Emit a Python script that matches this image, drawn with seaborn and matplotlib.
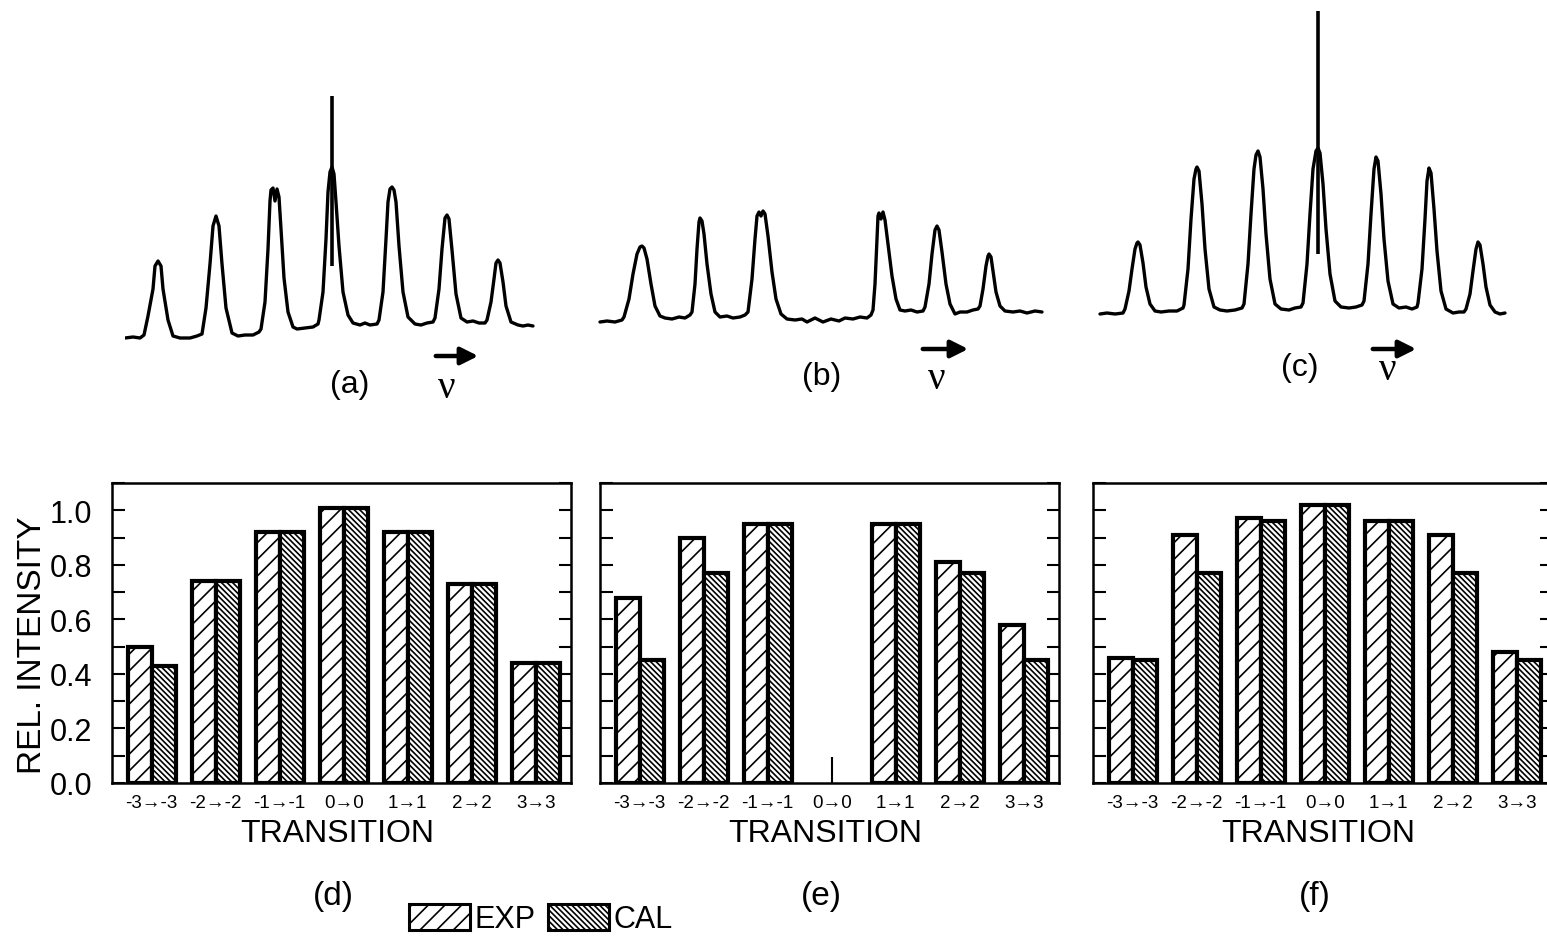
import numpy as np
import pandas as pd
import matplotlib
matplotlib.use('Agg')
import matplotlib.pyplot as plt
import seaborn as sns
from matplotlib.patches import Patch, FancyArrowPatch
from matplotlib.ticker import MultipleLocator

# bar data: relative intensities per transition
transitions = ['-3→-3', '-2→-2', '-1→-1', '0→0', '1→1', '2→2', '3→3']
exp_d = [0.50, 0.74, 0.92, 1.01, 0.92, 0.73, 0.44]
cal_d = [0.43, 0.74, 0.92, 1.01, 0.92, 0.73, 0.44]
exp_e = [0.68, 0.90, 0.95, np.nan, 0.95, 0.81, 0.58]
cal_e = [0.45, 0.77, 0.95, np.nan, 0.95, 0.77, 0.45]
exp_f = [0.46, 0.91, 0.97, 1.02, 0.96, 0.91, 0.48]
cal_f = [0.45, 0.77, 0.96, 1.02, 0.96, 0.77, 0.45]
e_center_mark = 0.095   # small stub drawn at 0->0 in panel (e)

# traced spectra (channel, signal)
spec_a_x = [0, 8, 15,
            19, 23, 28, 30, 33, 36, 38, 43, 48,
            55, 65, 72,
            77, 81, 85, 88, 91, 94, 97, 101, 107,
            113, 120, 128, 134,
            136, 140, 143, 145, 146, 148, 150, 152, 154, 156, 159, 163, 168,
            172, 180, 188, 193,
            194, 198, 201, 203, 205, 207, 209, 211, 214, 218, 223, 228,
            235, 240, 245, 252,
            254, 258, 261, 263, 265, 267, 269, 271, 274, 278, 283,
            290, 296, 302, 308,
            310, 314, 317, 320, 322, 324, 327, 331, 336,
            342, 348, 354, 360,
            362, 366, 369, 371, 373, 375, 378, 381, 386,
            393, 398, 403, 408]
spec_a_y = [6, 7, 6,
            9, 28, 55, 78, 83, 78, 55, 24, 8,
            6, 6, 8,
            10, 36, 80, 118, 128, 118, 80, 36, 11,
            8, 9, 9, 12,
            15, 42, 95, 143, 154, 156, 143, 155, 147, 115, 66, 32, 17,
            15, 16, 17, 20,
            24, 52, 105, 152, 172, 177, 170, 142, 98, 52, 29, 21,
            19, 21, 19, 20,
            24, 52, 105, 142, 155, 157, 154, 142, 98, 52, 27,
            20, 19, 21, 22,
            26, 55, 95, 126, 129, 125, 94, 50, 26,
            22, 23, 21, 21,
            24, 42, 65, 81, 84, 81, 62, 38, 22,
            19, 18, 19, 18]
spike_a = (206.7, 78, 248)

spec_b_x = [5, 12, 20, 27,
            29, 34, 38, 42, 45, 47, 49, 52, 56, 60, 65,
            70, 77, 84, 90, 95,
            97, 100, 102, 104, 105, 107, 109, 112, 116, 120,
            125, 132, 138, 145, 150,
            153, 157, 160, 162, 164, 166, 168, 170, 173, 177, 181, 186,
            192, 200, 207, 212, 220, 228, 236, 244, 250, 258, 265, 272, 276,
            278, 280, 282, 283, 284, 286, 288, 290, 293, 297, 301, 305,
            310, 316, 322, 328,
            330, 334, 337, 340, 342, 344, 347, 351, 355, 360,
            365, 372, 378, 383,
            385, 388, 391, 393, 394, 396, 398, 401, 405, 410,
            418, 425, 432, 440, 447]
spec_b_y = [12, 13, 12, 14,
            17, 35, 60, 80, 87, 88, 86, 75, 50, 28, 18,
            16, 15, 17, 16, 19,
            22, 50, 85, 112, 116, 113, 100, 70, 40, 22,
            17, 18, 16, 17, 19,
            22, 55, 95, 118, 122, 118, 123, 120, 98, 62, 35, 20,
            15, 14, 15, 12, 16, 12, 15, 13, 16, 15, 17, 16, 19,
            24, 50, 95, 118, 121, 115, 122, 114, 90, 58, 35, 24,
            23, 24, 22, 23,
            27, 50, 80, 104, 108, 104, 82, 50, 30, 20,
            22, 22, 24, 25,
            28, 45, 68, 78, 80, 77, 63, 42, 28, 23,
            22, 23, 21, 23, 22]

spec_c_x = [5, 12, 20, 28,
            30, 34, 37, 40, 42, 43, 45, 48, 51, 55, 60,
            66, 74, 82, 88,
            89, 93, 96, 99, 101, 102, 104, 107, 110, 114, 119,
            125, 132, 140, 147,
            149, 153, 156, 159, 161, 163, 165, 168, 171, 175, 180,
            186, 194, 200, 206,
            208, 212, 215, 218, 221, 223, 225, 228, 231, 235, 240,
            246, 254, 261, 267,
            269, 273, 276, 279, 281, 283, 286, 289, 293, 298,
            304, 311, 317, 322,
            323, 327, 330, 332, 334, 336, 339, 342, 346, 351,
            358, 364, 369,
            371, 375, 378, 381, 383, 385, 388, 391, 395, 400,
            405, 410]
spec_c_y = [15, 16, 15, 16,
            20, 38, 60, 80, 86, 87, 84, 66, 42, 25, 18,
            17, 18, 18, 21,
            24, 60, 110, 150, 160, 162, 158, 125, 80, 40, 22,
            19, 18, 19, 21,
            25, 65, 115, 160, 174, 178, 172, 140, 95, 50, 25,
            20, 19, 21, 22,
            26, 65, 115, 160, 178, 181, 176, 145, 100, 55, 28,
            22, 21, 22, 24,
            28, 65, 115, 160, 172, 168, 135, 90, 48, 25,
            21, 22, 20, 22,
            26, 60, 110, 148, 161, 156, 120, 78, 38, 20,
            16, 17, 17,
            20, 35, 58, 80, 87, 84, 65, 42, 24, 17,
            15, 16]
spike_c = (222.7, 75, 318)

W, H = 1547, 945


def fx(px):
    return px / W


def fy(py):
    return 1 - py / H


sns.set_style('white')
plt.rcParams['font.family'] = ['Liberation Sans', 'DejaVu Sans']
plt.rcParams['hatch.linewidth'] = 1.2
for key in ['text.color', 'axes.labelcolor', 'xtick.color', 'ytick.color']:
    plt.rcParams[key] = 'black'

fig = plt.figure(figsize=(W / 100, H / 100), dpi=100)

# --- spectra (a), (b), (c)
spectra = [
    (125, 90, 415, 255, spec_a_x, spec_a_y, spike_a),
    (595, 195, 455, 140, spec_b_x, spec_b_y, None),
    (1095, 5, 415, 325, spec_c_x, spec_c_y, spike_c),
]
for left, top, w, h, sx, sy, spike in spectra:
    ax = fig.add_axes([fx(left), fy(top + h), w / W, h / H])
    sns.lineplot(x=sx, y=sy, ax=ax, color='black', linewidth=2.4,
                 estimator=None, sort=False)
    if spike is not None:
        ax.vlines(spike[0], spike[1], spike[2], color='black', linewidth=2.6)
    ax.set_xlim(0, w)
    ax.set_ylim(0, h)
    ax.set_axis_off()

spec_labels = [('(a)', 350, 385, 447, 433, 481, 357),
               ('(b)', 822, 377, 937, 920, 971, 350),
               ('(c)', 1300, 368, 1388, 1370, 1419, 350)]
for lab, lx, ly, nx, ax0, ax1, ay in spec_labels:
    fig.text(fx(lx), fy(ly), lab, fontsize=23, ha='center', va='center')
    fig.text(fx(nx), fy(ly + 3), 'ν', fontsize=28, ha='center', va='center',
             family=['Liberation Serif', 'DejaVu Serif'])
    arr = FancyArrowPatch((fx(ax0), fy(ay)), (fx(ax1), fy(ay)),
                          transform=fig.transFigure, arrowstyle='-|>',
                          mutation_scale=26, linewidth=3.2, color='black')
    fig.add_artist(arr)

# --- bar panels (d), (e), (f)
panels = [
    (112, exp_d, cal_d, '(d)', True),
    (600, exp_e, cal_e, '(e)', False),
    (1093, exp_f, cal_f, '(f)', False),
]
hatches = ['//', '\\' * 6]
bar_top, bar_bottom = 484, 784
for left, exp, cal, tag, show_labels in panels:
    ax = fig.add_axes([fx(left), fy(bar_bottom), 459 / W, (bar_bottom - bar_top) / H])
    df = pd.DataFrame({
        'Transition': transitions * 2,
        'Type': ['EXP'] * 7 + ['CAL'] * 7,
        'Intensity': list(exp) + list(cal),
    })
    sns.barplot(data=df, x='Transition', y='Intensity', hue='Type',
                order=transitions, hue_order=['EXP', 'CAL'],
                palette=['white', 'white'], saturation=1, edgecolor='black',
                linewidth=3, width=0.75, errorbar=None, legend=False, ax=ax)
    for cont, hatch in zip(ax.containers, hatches):
        for bar in cont:
            bar.set_hatch(hatch)
    if tag == '(e)':
        ax.vlines(transitions.index('0→0'), 0, e_center_mark, color='black', linewidth=1.5)

    ax.set_xlim(-0.62, 6.55)
    ax.set_ylim(0, 1.1)
    ax.yaxis.set_major_locator(MultipleLocator(0.2))
    ax.yaxis.set_minor_locator(MultipleLocator(0.1))
    ax.yaxis.set_major_formatter(plt.FormatStrFormatter('%.1f'))
    ax.tick_params(axis='y', which='both', direction='in', left=True, right=True,
                   length=9, width=1.5, labelleft=show_labels, labelsize=22, pad=14)
    ax.tick_params(axis='x', length=0, labelsize=13.5, pad=8)
    for sp in ax.spines.values():
        sp.set_linewidth(1.8)
        sp.set_color('black')
    ax.set_xlabel('')
    ax.set_ylabel('')
    cx = left + 459 * 0.5
    fig.text(fx(cx - 4), fy(842), 'TRANSITION', fontsize=23, ha='center', va='baseline')
    fig.text(fx(cx - 8), fy(897), tag, fontsize=24, ha='center', va='center')

fig.text(fx(33), fy(645), 'REL. INTENSITY', fontsize=24, rotation=90,
         ha='center', va='center')

handles = [Patch(facecolor='white', edgecolor='black', hatch=hatches[0], linewidth=2.2),
           Patch(facecolor='white', edgecolor='black', hatch=hatches[1], linewidth=2.2)]
fig.legend(handles=handles, labels=['EXP', 'CAL'], loc='center',
           bbox_to_anchor=(fx(541), fy(920)), ncol=2, frameon=False, fontsize=22,
           handlelength=2.0, handleheight=0.95, handletextpad=0.15,
           columnspacing=0.4, borderpad=0)

fig.savefig('out.png', dpi=100, facecolor='white')
